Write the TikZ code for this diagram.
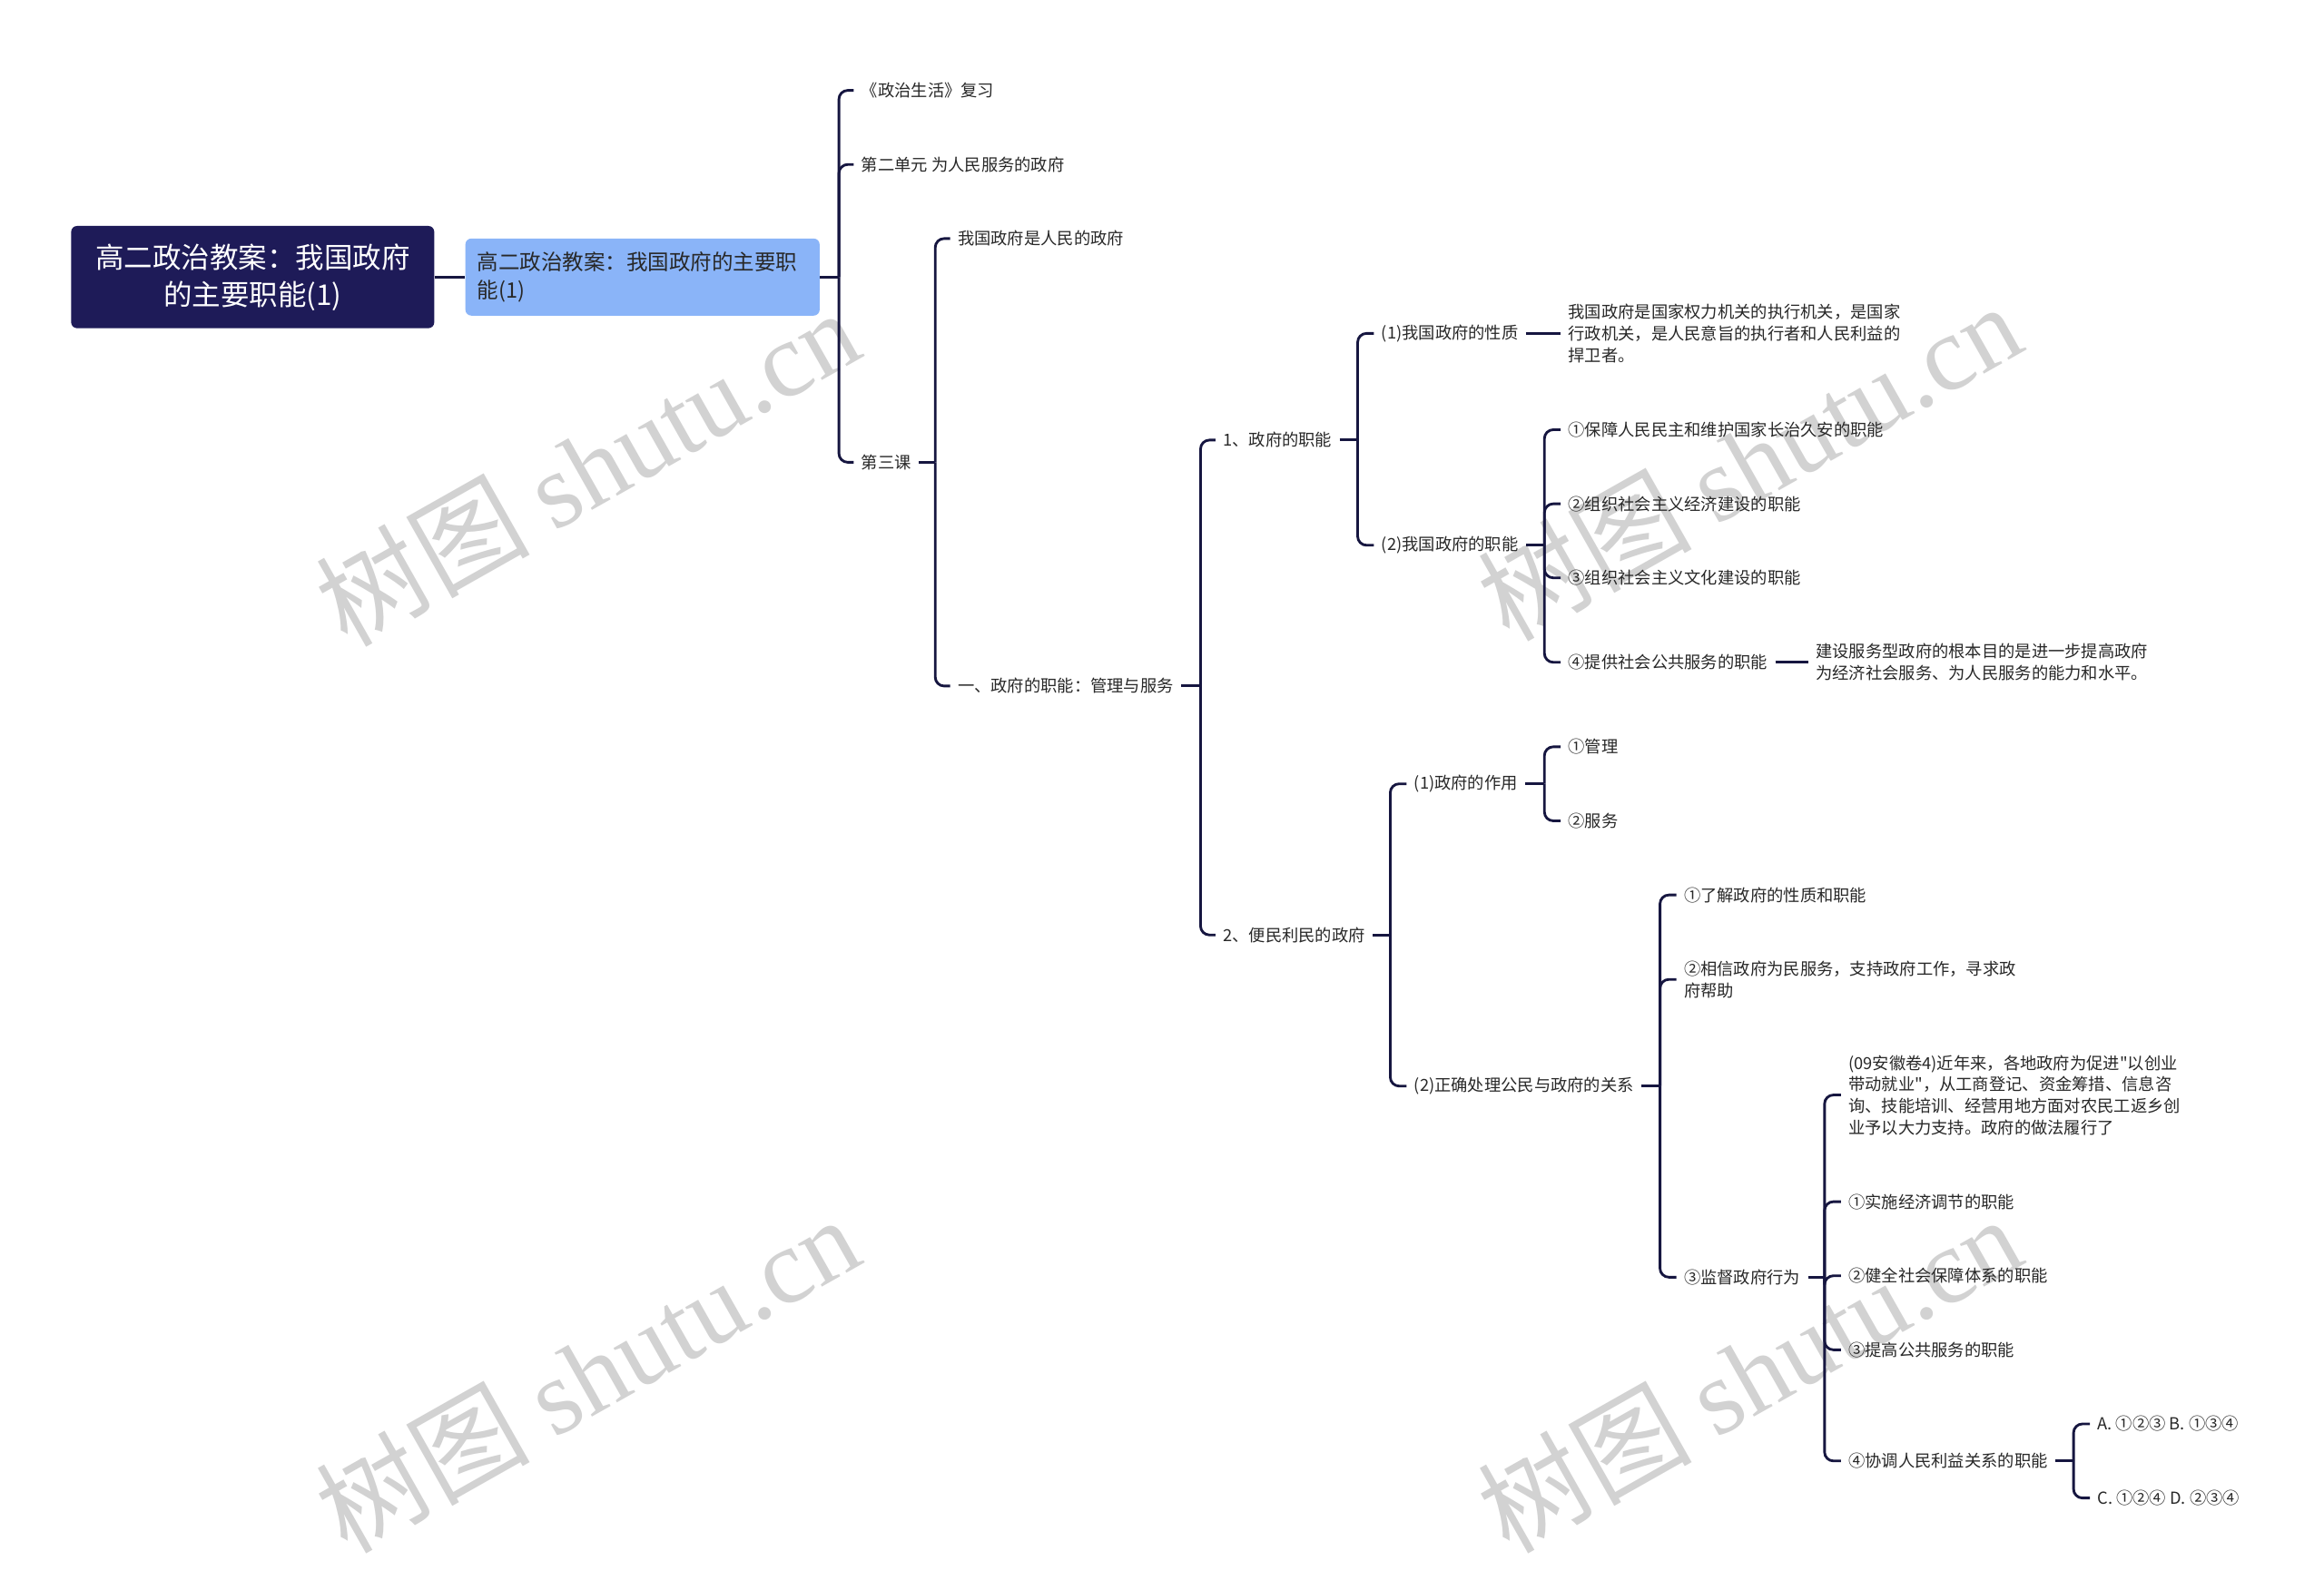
\documentclass[tikz,border=0pt]{standalone}
\usepackage{fontspec}
\setmainfont{Noto Sans CJK SC}[Ligatures=TeXOff]
\newfontfamily\wmlat{Liberation Serif}
\definecolor{navy}{RGB}{30,27,88}
\definecolor{lblue}{RGB}{138,180,248}
\definecolor{lc}{RGB}{22,22,64}
\definecolor{txt}{RGB}{40,40,40}
\definecolor{wm}{RGB}{210,210,210}
\tikzset{
 lf/.style={anchor=west,inner xsep=5pt,inner ysep=2pt,text=txt,align=left,font=\fontsize{11.2}{14.5}\selectfont},
 ln/.style={draw=lc,line width=1.75pt,rounded corners=6pt},
 wmark/.style={text=wm,rotate=29.5,font=\fontsize{72}{78}\selectfont},
}
\begin{document}
\begin{tikzpicture}[x=1pt,y=-1pt]
\useasboundingbox[fill=white] (0,0) rectangle (1568,1072.5);
% watermarks
\node[wmark] (w1) at (396,315) {树图 {\wmlat shutu.cn}};
\node[wmark] (w2) at (1180,311) {树图 {\wmlat shutu.cn}};
\node[wmark] (w3) at (396,927) {树图 {\wmlat shutu.cn}};
\node[wmark] (w4) at (1180,927) {树图 {\wmlat shutu.cn}};
% root and main topic
\node[fill=navy,rounded corners=4pt,minimum width=245pt,minimum height=69pt,text=white,align=center,font=\fontsize{19.3}{25}\selectfont] (root) at (170.5,187) {高二政治教案：我国政府\\的主要职能(1)};
\node[fill=lblue,rounded corners=4pt,minimum width=239pt,minimum height=52pt,inner xsep=8pt,text width=223pt,text=txt,align=left,font=\fontsize{14.4}{19}\selectfont] (sub) at (433.5,187) {高二政治教案：我国政府的主要职\\能(1)};
% level 2
\node[lf] (n1) at (576,61) {《政治生活》复习};
\node[lf] (n2) at (576,111) {第二单元 为人民服务的政府};
\node[lf] (n3) at (576,312) {第三课};
% level 3
\node[lf] (n31) at (641,161) {我国政府是人民的政府};
\node[lf] (n32) at (641,463) {一、政府的职能：管理与服务};
% level 4
\node[lf] (n321) at (820,297) {1、政府的职能};
\node[lf] (n322) at (820,631) {2、便民利民的政府};
% 1 branch
\node[lf] (a1) at (927,225) {(1)我国政府的性质};
\node[lf] (a1t) at (1053,225) {我国政府是国家权力机关的执行机关，是国家\\行政机关，是人民意旨的执行者和人民利益的\\捍卫者。};
\node[lf] (a2) at (927,368) {(2)我国政府的职能};
\node[lf] (a21) at (1053,290) {①保障人民民主和维护国家长治久安的职能};
\node[lf] (a22) at (1053,340) {②组织社会主义经济建设的职能};
\node[lf] (a23) at (1053,390) {③组织社会主义文化建设的职能};
\node[lf] (a24) at (1053,447) {④提供社会公共服务的职能};
\node[lf] (a24t) at (1220,447) {建设服务型政府的根本目的是进一步提高政府\\为经济社会服务、为人民服务的能力和水平。};
% 2 branch
\node[lf] (b1) at (949,529) {(1)政府的作用};
\node[lf] (b11) at (1053,504) {①管理};
\node[lf] (b12) at (1053,554) {②服务};
\node[lf] (b2) at (949,733) {(2)正确处理公民与政府的关系};
\node[lf] (b21) at (1131,604) {①了解政府的性质和职能};
\node[lf] (b22) at (1131,661) {②相信政府为民服务，支持政府工作，寻求政\\府帮助};
\node[lf] (b23) at (1131,862) {③监督政府行为};
\node[lf] (c1) at (1242,739) {(09安徽卷4)近年来，各地政府为促进"以创业\\带动就业"，从工商登记、资金筹措、信息咨\\询、技能培训、经营用地方面对农民工返乡创\\业予以大力支持。政府的做法履行了};
\node[lf] (c2) at (1242,811) {①实施经济调节的职能};
\node[lf] (c3) at (1242,861) {②健全社会保障体系的职能};
\node[lf] (c4) at (1242,911) {③提高公共服务的职能};
\node[lf] (c5) at (1242,986) {④协调人民利益关系的职能};
\node[lf] (d1) at (1410,961) {A. ①②③ B. ①③④};
\node[lf] (d2) at (1410,1011) {C. ①②④ D. ②③④};
% connectors
\draw[ln] (root.east) -- (sub.west);
\draw[ln] (sub.east) -- (566,187) coordinate (bs);
\foreach \c in {n1,n2,n3} \draw[ln] (bs) |- (\c.west);
\draw[ln] (n3.east) -- (631,312) coordinate (b3);
\foreach \c in {n31,n32} \draw[ln] (b3) |- (\c.west);
\draw[ln] (n32.east) -- (810,463) coordinate (b32);
\foreach \c in {n321,n322} \draw[ln] (b32) |- (\c.west);
\draw[ln] (n321.east) -- (916,297) coordinate (b321);
\foreach \c in {a1,a2} \draw[ln] (b321) |- (\c.west);
\draw[ln] (a1.east) -- (a1t.west);
\draw[ln] (a2.east) -- (1042,368) coordinate (ba2);
\foreach \c in {a21,a22,a23,a24} \draw[ln] (ba2) |- (\c.west);
\draw[ln] (a24.east) -- (a24t.west);
\draw[ln] (n322.east) -- (938,631) coordinate (b322);
\foreach \c in {b1,b2} \draw[ln] (b322) |- (\c.west);
\draw[ln] (b1.east) -- (1042,529) coordinate (bb1);
\foreach \c in {b11,b12} \draw[ln] (bb1) |- (\c.west);
\draw[ln] (b2.east) -- (1120,733) coordinate (bb2);
\foreach \c in {b21,b22,b23} \draw[ln] (bb2) |- (\c.west);
\draw[ln] (b23.east) -- (1231,862) coordinate (bb23);
\foreach \c in {c1,c2,c3,c4,c5} \draw[ln] (bb23) |- (\c.west);
\draw[ln] (c5.east) -- (1399,986) coordinate (bc5);
\foreach \c in {d1,d2} \draw[ln] (bc5) |- (\c.west);
\end{tikzpicture}
\end{document}
